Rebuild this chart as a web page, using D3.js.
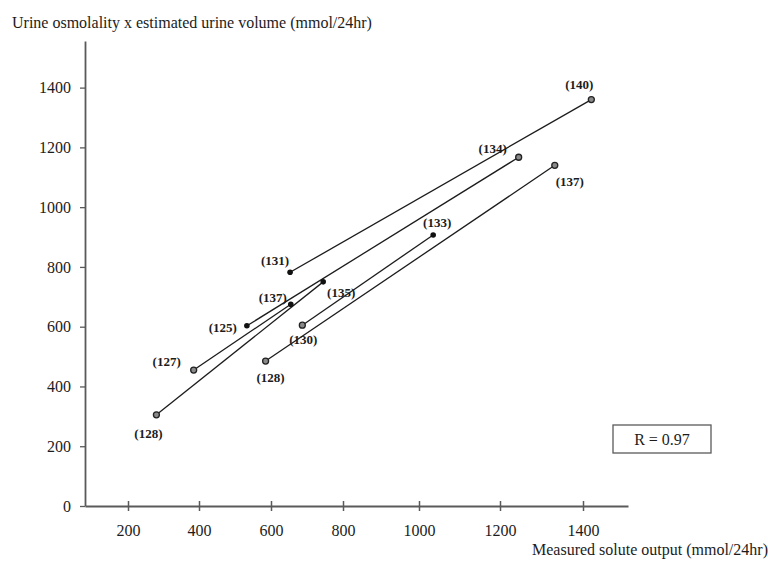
<!DOCTYPE html>
<html>
<head>
<meta charset="utf-8">
<script src="https://cdn.jsdelivr.net/npm/d3@7/dist/d3.min.js"></script>
<style>
  html, body { margin: 0; padding: 0; background: #fff; }
  svg { display: block; font-family: "Liberation Serif", "Times New Roman", serif; }
</style>
</head>
<body>
<svg id="chart" width="768" height="563"></svg>
<script>
// Plasma sodium (mmol/L) shown beside each measurement
const sodiumLabels = ["(128)", "(127)", "(125)", "(137)", "(131)", "(135)",
                      "(128)", "(130)", "(133)", "(134)", "(137)", "(140)"];
// Measured solute output (mmol/24hr)
const soluteOutput = [280, 385, 533, 655, 653, 745, 585, 687, 1035, 1245, 1332, 1420];
// Urine osmolality x estimated urine volume (mmol/24hr)
const osmXVolume = [305, 455, 603, 675, 782, 750, 485, 605, 907, 1167, 1140, 1360];
// Marker style of each measurement
const markerKind = ["open", "open", "filled", "filled", "filled", "filled",
                    "open", "open", "filled", "open", "open", "open"];
// Pairs of measurements joined by a line
const pairs = [[0, 5], [1, 3], [2, 9], [4, 11], [6, 10], [7, 8]];
// Axis tick values
const xTicks = [200, 400, 600, 800, 1000, 1200, 1400];
const yTicks = [0, 200, 400, 600, 800, 1000, 1200, 1400];
const correlation = "R = 0.97";

// Label placement around each marker (dx, dy in px)
const labelOffset = [[-8, 19], [-27, -9], [-24, 2], [-18, -7], [-15, -12], [18, 11],
                     [5, 16], [1, 14], [4, -12], [-26, -9], [15, 16], [-12, -15]];

const svg = d3.select("#chart");
const ink = "#1c1c1c";
const axisInk = "#5a5a5a";
const fmt = d3.format("d");

// Horizontal scale follows the printed tick spacing
const x = d3.scaleLinear()
  .domain([80, 200, 400, 600, 800, 1000, 1200, 1400, 1508])
  .range([85, 128, 199, 271, 343, 419, 500, 583, 628]);
const y = d3.scaleLinear().domain([0, 1556]).range([506, 41]);

// Y axis
const yAxis = svg.append("g").attr("transform", `translate(${x(80)},0)`)
  .call(d3.axisLeft(y).tickValues(yTicks).tickFormat(fmt).tickSize(5).tickSizeOuter(0).tickPadding(9));
yAxis.select(".domain").attr("stroke", axisInk).attr("stroke-width", 1.8);
yAxis.selectAll(".tick line").attr("stroke", axisInk).attr("stroke-width", 1.3);
yAxis.selectAll(".tick text").attr("fill", ink).attr("font-size", 16)
  .attr("font-family", "Liberation Serif").attr("dy", "0.33em");

// X axis with ticks crossing the line
const xAxis = svg.append("g").attr("transform", `translate(0,${y(0)})`)
  .call(d3.axisBottom(x).tickValues(xTicks).tickFormat(fmt).tickSize(5).tickSizeOuter(0).tickPadding(0));
xAxis.select(".domain").attr("stroke", axisInk).attr("stroke-width", 1.8);
xAxis.selectAll(".tick line").attr("stroke", axisInk).attr("stroke-width", 1.5).attr("y1", -5);
xAxis.selectAll(".tick text").attr("fill", ink).attr("font-size", 16)
  .attr("font-family", "Liberation Serif").attr("dy", null).attr("y", 30);

// Axis titles
svg.append("text").attr("x", 12).attr("y", 28).attr("fill", ink).attr("font-size", 16)
  .text("Urine osmolality x estimated urine volume (mmol/24hr)");
svg.append("text").attr("x", 532).attr("y", 555).attr("fill", ink).attr("font-size", 16)
  .text("Measured solute output (mmol/24hr)");

// Connecting lines
svg.append("g").selectAll("line").data(pairs).join("line")
  .attr("x1", d => x(soluteOutput[d[0]])).attr("y1", d => y(osmXVolume[d[0]]))
  .attr("x2", d => x(soluteOutput[d[1]])).attr("y2", d => y(osmXVolume[d[1]]))
  .attr("stroke", ink).attr("stroke-width", 1.3);

// Markers
const idx = d3.range(soluteOutput.length);
svg.append("g").selectAll("circle").data(idx).join("circle")
  .attr("cx", i => x(soluteOutput[i])).attr("cy", i => y(osmXVolume[i]))
  .attr("r", i => markerKind[i] === "filled" ? 2.8 : 3)
  .attr("fill", i => markerKind[i] === "filled" ? "#111" : "#8a8a8a")
  .attr("stroke", i => markerKind[i] === "filled" ? "none" : "#222")
  .attr("stroke-width", 1.3);

// Sodium labels
svg.append("g").selectAll("text").data(idx).join("text")
  .attr("x", i => x(soluteOutput[i]) + labelOffset[i][0])
  .attr("y", i => y(osmXVolume[i]) + labelOffset[i][1])
  .attr("dy", "0.35em").attr("text-anchor", "middle")
  .attr("font-size", 13).attr("font-weight", "bold").attr("fill", ink)
  .text(i => sodiumLabels[i]);

// Correlation box
const box = svg.append("g");
box.append("rect").attr("x", 613).attr("y", 425).attr("width", 98).attr("height", 28)
  .attr("fill", "none").attr("stroke", axisInk).attr("stroke-width", 1.3);
box.append("text").attr("x", 662).attr("y", 439).attr("dy", "0.35em")
  .attr("text-anchor", "middle").attr("font-size", 16).attr("fill", ink).text(correlation);
</script>
</body>
</html>
